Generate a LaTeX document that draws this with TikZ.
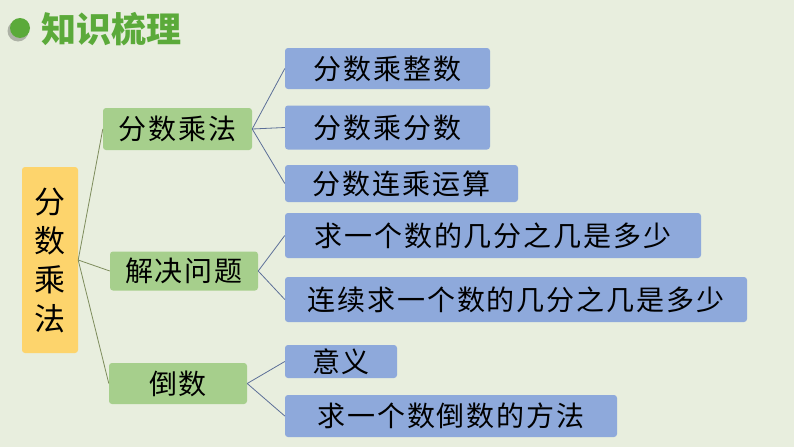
\documentclass[tikz,border=0pt]{standalone}
\usepackage{fontspec}
\usepackage{tikz}
\newfontfamily\cjk[LetterSpace=7]{Noto Sans CJK SC}
\newfontfamily\cjktitle{Noto Sans CJK SC}

\definecolor{pagebg}{HTML}{E8EEDE}
\definecolor{titlegreen}{HTML}{5BAA3A}
\definecolor{rootyellow}{HTML}{FDD46C}
\definecolor{midgreen}{HTML}{A6CF8C}
\definecolor{leafblue}{HTML}{8EA9DB}
\definecolor{trunkline}{HTML}{7D8C5C}
\definecolor{twigline}{HTML}{5C6F98}

\tikzset{
  rootbox/.style={fill=rootyellow, rounded corners=3pt, inner sep=0pt,
    minimum width=56pt, minimum height=186pt, align=center,
    font=\cjktitle\fontsize{31}{39}\selectfont},
  midbox/.style={fill=midgreen, rounded corners=3pt, inner sep=0pt,
    font=\cjk\fontsize{28}{30}\selectfont},
  leafbox/.style={fill=leafblue, rounded corners=3pt, inner sep=0pt,
    font=\cjk\fontsize{28}{30}\selectfont},
  trunk/.style={draw=trunkline, line width=0.8pt},
  twig/.style={draw=twigline, line width=0.8pt}
}

\begin{document}
\begin{tikzpicture}[x=1pt, y=-1pt]

	\fill[pagebg] (0,0) rectangle (794,447);
	\useasboundingbox (0,0) rectangle (794,447);

	% heading
	\fill[black, opacity=0.25] (18,31) circle [radius=10.5];
	\fill[titlegreen] (20,28) circle [radius=10];
	\node[text=titlegreen, font=\cjktitle\bfseries\fontsize{35}{37}\selectfont,
	  anchor=west, inner sep=0pt] (heading) at (41,29) {知识梳理};

	% left column
	\node[rootbox] (root) at (50,260) {分\\数\\乘\\法};

	% middle column
	\node[midbox, minimum width=149pt, minimum height=42pt] (mult) at (177.5,129) {分数乘法};
	\node[midbox, minimum width=148pt, minimum height=39pt] (solve) at (184,271) {解决问题};
	\node[midbox, minimum width=138pt, minimum height=41pt] (recip) at (178,383.5) {倒数};

	% right column
	\node[leafbox, minimum width=205pt, minimum height=41pt] (multInt) at (387.5,68.5) {分数乘整数};
	\node[leafbox, minimum width=205pt, minimum height=44pt] (multFrac) at (387.5,127.5) {分数乘分数};
	\node[leafbox, minimum width=233pt, minimum height=37pt] (multChain) at (401.5,183.5) {分数连乘运算};
	\node[leafbox, minimum width=416pt, minimum height=45pt] (partOf) at (493,235.5) {求一个数的几分之几是多少};
	\node[leafbox, minimum width=462pt, minimum height=45pt] (partChain) at (516,299.5) {连续求一个数的几分之几是多少};
	\node[leafbox, minimum width=112pt, minimum height=33pt] (meaning) at (341,361.5) {意义};
	\node[leafbox, minimum width=332pt, minimum height=42pt] (method) at (451,416) {求一个数倒数的方法};

	\draw[trunk] (root.east) -- (mult.west);
	\draw[trunk] (root.east) -- (solve.west);
	\draw[trunk] (root.east) -- (recip.west);

	\draw[twig] (mult.east) -- (multInt.west);
	\draw[twig] (mult.east) -- (multFrac.west);
	\draw[twig] (mult.east) -- (multChain.west);
	\draw[twig] (solve.east) -- (partOf.west);
	\draw[twig] (solve.east) -- (partChain.west);
	\draw[twig] (recip.east) -- (meaning.west);
	\draw[twig] (recip.east) -- (method.west);
    \end{tikzpicture}
\end{document}
